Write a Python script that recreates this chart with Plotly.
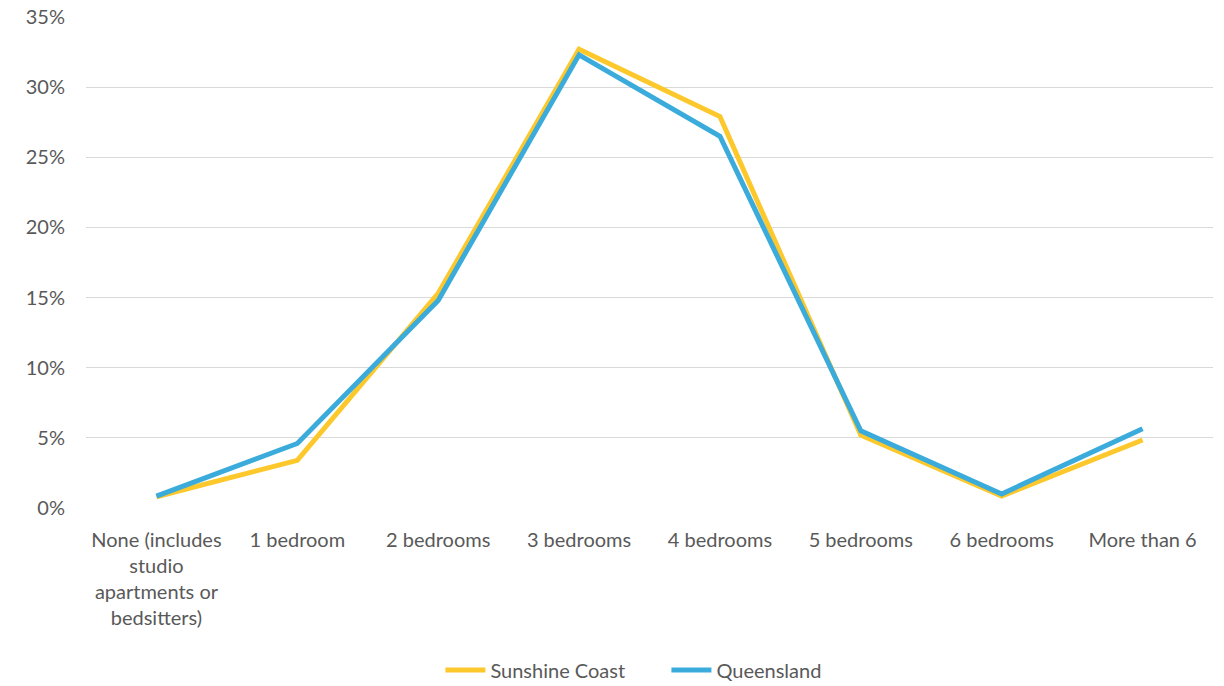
import plotly.graph_objects as go

categories = ["None (includes<br>studio<br>apartments or<br>bedsitters)", "1 bedroom", "2 bedrooms",
              "3 bedrooms", "4 bedrooms", "5 bedrooms", "6 bedrooms", "More than 6"]
sunshine_coast = [0.8, 3.4, 15.3, 32.7, 27.9, 5.2, 0.85, 4.85]
queensland = [0.85, 4.6, 14.8, 32.3, 26.5, 5.5, 1.0, 5.65]
y_ticks = [0, 5, 10, 15, 20, 25, 30, 35]
y_tick_labels = [f"{v}%" for v in y_ticks]

FONT = "Lato, Calibri, Carlito, sans-serif"
TXT = "#595959"

fig = go.Figure()
fig.add_trace(go.Scatter(x=categories, y=sunshine_coast, name="Sunshine Coast", mode="lines",
                         line=dict(color="#FDC82B", width=5)))
fig.add_trace(go.Scatter(x=categories, y=queensland, name="Queensland", mode="lines",
                         line=dict(color="#3AABDB", width=5)))

fig.update_layout(
    width=1224, height=686,
    margin=dict(l=86, r=11, t=17, b=178, autoexpand=False),
    paper_bgcolor="white", plot_bgcolor="white",
    font=dict(family=FONT, size=20, color=TXT),
    showlegend=True,
    legend=dict(orientation="h", x=0.515, xanchor="center", y=-0.33, yanchor="middle",
                font=dict(size=20, color=TXT), itemwidth=40, tracegroupgap=0,
                entrywidth=171, entrywidthmode="pixels"),
    xaxis=dict(type="category", showgrid=False, showline=False, zeroline=False,
               ticks="", ticklabelstandoff=18, tickfont=dict(size=20, color=TXT),
               range=[-0.5, 7.5], automargin=False),
    yaxis=dict(range=[0, 35], tickvals=y_ticks, ticktext=y_tick_labels,
               showgrid=True, gridcolor="#D9D9D9", gridwidth=1.3,
               zeroline=False, showline=False, ticks="", ticklabelstandoff=20,
               tickfont=dict(size=20, color=TXT), automargin=False),
)
fig.write_html("out.html")
